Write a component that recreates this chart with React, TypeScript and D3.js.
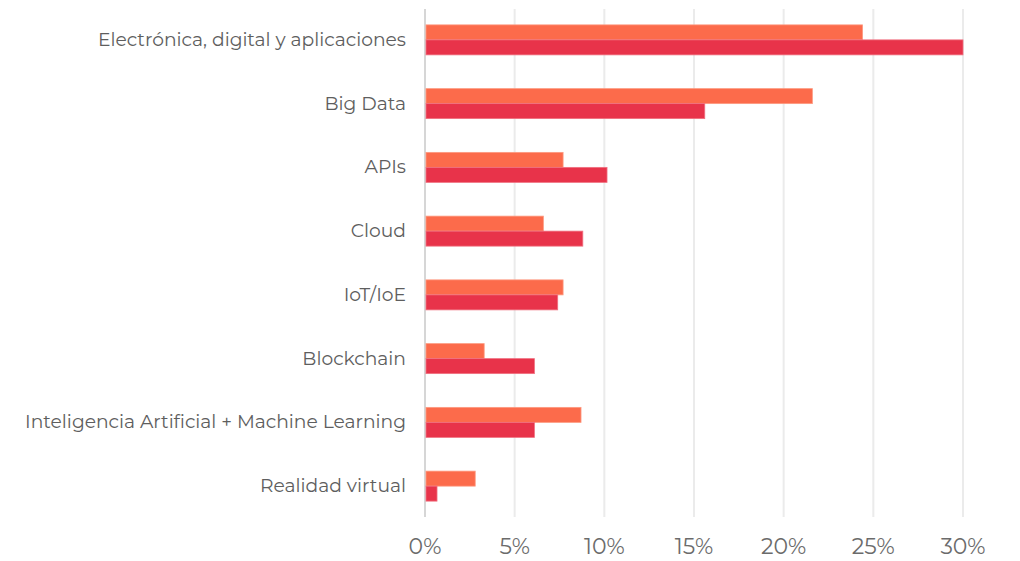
import React, { useEffect, useRef } from "react";
import * as d3 from "d3";

const categories = [
  "Electrónica, digital y aplicaciones",
  "Big Data",
  "APIs",
  "Cloud",
  "IoT/IoE",
  "Blockchain",
  "Inteligencia Artificial + Machine Learning",
  "Realidad virtual",
];
// orange (top bar) and red (bottom bar) series, in %
const seriesA = [24.4, 21.6, 7.7, 6.6, 7.7, 3.3, 8.7, 2.8];
const seriesB = [30.0, 15.6, 10.15, 8.8, 7.4, 6.1, 6.1, 0.67];
const xTicks = [0, 5, 10, 15, 20, 25, 30];

const App = () => {
  const ref = useRef<SVGSVGElement>(null);

  useEffect(() => {
    const svg = d3.select(ref.current);
    svg.selectAll("*").remove();

    const font = "Montserrat, 'Open Sans', sans-serif";

    const x = d3.scaleLinear().domain([0, 30]).range([425, 963]);
    const y = d3.scaleBand().domain(categories).range([8, 518]).paddingInner(0).paddingOuter(0);
    const barH = 15;

    // gridlines
    svg
      .append("g")
      .selectAll("line")
      .data(xTicks.slice(1))
      .enter()
      .append("line")
      .attr("x1", (d) => x(d))
      .attr("x2", (d) => x(d))
      .attr("y1", 9)
      .attr("y2", 517)
      .attr("stroke", "#ebebeb")
      .attr("stroke-width", 2);

    // axis line
    svg
      .append("line")
      .attr("x1", x(0))
      .attr("x2", x(0))
      .attr("y1", 9)
      .attr("y2", 517)
      .attr("stroke", "#d6d6d6")
      .attr("stroke-width", 2);

    const rows = categories.map((c, i) => ({ c, a: seriesA[i], b: seriesB[i] }));

    // top bars (orange)
    svg
      .append("g")
      .selectAll("rect")
      .data(rows)
      .enter()
      .append("rect")
      .attr("x", x(0) + 1)
      .attr("y", (d) => y(d.c)! + y.bandwidth() / 2 - barH)
      .attr("width", (d) => Math.max(0, x(d.a) - x(0) - 1))
      .attr("height", barH)
      .attr("fill", "#fc6b4b")
      .attr("stroke", "#fd9a80")
      .attr("stroke-width", 0.8);

    // bottom bars (red)
    svg
      .append("g")
      .selectAll("rect")
      .data(rows)
      .enter()
      .append("rect")
      .attr("x", x(0) + 1)
      .attr("y", (d) => y(d.c)! + y.bandwidth() / 2)
      .attr("width", (d) => Math.max(0, x(d.b) - x(0) - 1))
      .attr("height", barH)
      .attr("fill", "#e8334a")
      .attr("stroke", "#f07080")
      .attr("stroke-width", 0.8);

    // category labels
    svg
      .append("g")
      .selectAll("text")
      .data(categories)
      .enter()
      .append("text")
      .attr("x", 406)
      .attr("y", (d) => y(d)! + y.bandwidth() / 2 + 6)
      .attr("text-anchor", "end")
      .attr("fill", "#5e5e5e")
      .style("font-family", font)
      .style("font-size", "18.7px")
      .text((d) => d);

    // x tick labels
    svg
      .append("g")
      .selectAll("text")
      .data(xTicks)
      .enter()
      .append("text")
      .attr("x", (d) => x(d))
      .attr("y", 554)
      .attr("text-anchor", "middle")
      .attr("fill", "#6b6b6b")
      .style("font-family", font)
      .style("font-size", "22px")
      .text((d) => `${d}%`);
  }, []);

  return (
    <svg
      ref={ref}
      width={1020}
      height={561}
      style={{ position: "absolute", left: 0, top: 0, background: "#fff" }}
    />
  );
};

export default App;
